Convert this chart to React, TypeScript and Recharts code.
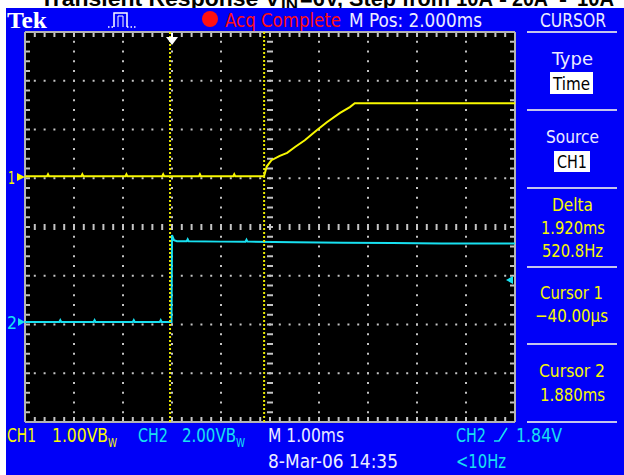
import React from 'react';
import { LineChart, Line, XAxis, YAxis, ReferenceLine, ReferenceArea } from 'recharts';

// CH1 (yellow, 1.00 V/div), time in ms relative to trigger
const ch1Time = [-3.0, -2.55, -2.53, -2.51, -1.85, -1.83, -1.81, -0.95, -0.93, -0.91, -0.2, -0.18, -0.16, 0.55, 0.57, 0.59, 1.25, 1.27, 1.29, 1.878, 1.933, 2.03, 2.2, 2.35, 2.51, 2.71, 2.96, 3.16, 3.43, 3.63, 3.73, 5.0, 7.0];
const ch1Volts = [0.04, 0.04, 0.08, 0.04, 0.04, 0.08, 0.04, 0.04, 0.08, 0.04, 0.04, 0.08, 0.04, 0.04, 0.08, 0.04, 0.04, 0.08, 0.04, 0.04, 0.24, 0.37, 0.46, 0.52, 0.64, 0.78, 0.99, 1.15, 1.34, 1.46, 1.54, 1.54, 1.54];

// CH2 (cyan, 2.00 V/div)
const ch2Time = [-3.0, -2.3, -2.28, -2.26, -1.6, -1.58, -1.56, -0.8, -0.78, -0.76, -0.25, -0.23, -0.21, -0.01, 0.0, 0.04, 0.1, 0.3, 0.32, 0.34, 1.0, 1.5, 1.52, 1.54, 2.5, 3.5, 4.5, 5.5, 7.0];
const ch2Volts = [0.0, 0.0, 0.08, 0.0, 0.0, 0.08, 0.0, 0.0, 0.08, 0.0, 0.0, 0.08, 0.0, 0.0, 3.57, 3.36, 3.32, 3.32, 3.4, 3.32, 3.3, 3.3, 3.38, 3.3, 3.27, 3.25, 3.24, 3.22, 3.22];

// graticule (ms / CH1 volts)
const xDomain = [-3, 7];
const ch1Domain = [-5, 3];
const ch2Domain = [-4.1, 11.9];
const gridX = [-2, -1, 0, 1, 3, 4, 5, 6];
const gridY = [2, 1, 0, -2, -3, -4];
const centerX = 2;
const centerY = -1;
const cursor1 = -0.04;
const cursor2 = 1.88;

const ch1Data = ch1Time.map((t, i) => ({ t, v: ch1Volts[i] }));
const ch2Data = ch2Time.map((t, i) => ({ t, v: ch2Volts[i] }));

const BLUE = '#0000f8';
const YEL = '#f8f800';
const CYAN = '#18e0f0';
const WHITE = '#ececff';
const GRID = '#c4c4c4';
const FONT = "'Liberation Sans Narrow', 'DejaVu Sans Condensed', 'Liberation Sans', Arial, sans-serif";
const TFONT = "'Liberation Sans', Arial, sans-serif";

function T(props: any) {
  const { x, y, w, fill, size = 18, anchor = 'start', family = FONT, weight = 'normal', children } = props;
  return (
    <text x={x} y={y} fill={fill} fontSize={size} fontFamily={family} fontWeight={weight}
      textLength={w} lengthAdjust="spacingAndGlyphs" textAnchor={anchor}>{children}</text>
  );
}

export default function App() {
  const W = 624, H = 475;
  return (
    <div style={{ position: 'absolute', left: 0, top: 0, width: W, height: H, background: '#fff', overflow: 'hidden' }}>
      <svg width={W} height={H} style={{ position: 'absolute', left: 0, top: 0 }}>
        <T x={40} y={6} w={240} fill="#000" size={22} family={TFONT} weight="bold">Transient Response V</T>
        <T x={281} y={9} w={17} fill="#000" size={14} family={TFONT} weight="bold">IN</T>
        <T x={300} y={6} w={150} fill="#000" size={22} family={TFONT} weight="bold">=6V, Step from</T>
        <T x={456} y={6} w={37} fill="#000" size={22} family={TFONT} weight="bold">10A</T>
        <T x={499} y={6} w={8} fill="#000" size={22} family={TFONT} weight="bold">-</T>
        <T x={512} y={6} w={36} fill="#000" size={22} family={TFONT} weight="bold">20A</T>
        <T x={559} y={6} w={8} fill="#000" size={22} family={TFONT} weight="bold">-</T>
        <T x={577} y={6} w={37} fill="#000" size={22} family={TFONT} weight="bold">10A</T>
        <rect x={6} y={8} width={W - 6} height={H - 8} fill={BLUE} />
      </svg>

      <div style={{ position: 'absolute', left: 0, top: 0 }}>
        <LineChart width={W} height={H} data={ch1Data} margin={{ top: 32, right: 109, bottom: 53, left: 25 }}>
          <XAxis dataKey="t" type="number" domain={xDomain} hide allowDataOverflow />
          <YAxis type="number" domain={ch1Domain} hide allowDataOverflow />
          <YAxis yAxisId="ch2" type="number" domain={ch2Domain} hide allowDataOverflow />
          <ReferenceArea x1={xDomain[0]} x2={xDomain[1]} y1={ch1Domain[0]} y2={ch1Domain[1]} fill="#000" fillOpacity={1} stroke="none" />
          {gridX.map((x) => (
            <ReferenceLine key={'gx' + x} x={x} stroke={GRID} strokeWidth={2} strokeDasharray="2 7.75" strokeDashoffset={1} />
          ))}
          {gridY.map((y) => (
            <ReferenceLine key={'gy' + y} y={y} stroke={GRID} strokeWidth={2} strokeDasharray="2 7.8" strokeDashoffset={1} />
          ))}
          <ReferenceLine x={centerX} stroke={GRID} strokeWidth={6} strokeDasharray="2 7.75" strokeDashoffset={1} />
          <ReferenceLine y={centerY} stroke={GRID} strokeWidth={6} strokeDasharray="2 7.8" strokeDashoffset={1} />
          <ReferenceLine x={xDomain[0] + 0.051} stroke={GRID} strokeWidth={5} strokeDasharray="2 7.75" strokeDashoffset={1} />
          <ReferenceLine x={xDomain[1] - 0.051} stroke={GRID} strokeWidth={5} strokeDasharray="2 7.75" strokeDashoffset={1} />
          <ReferenceLine y={ch1Domain[1] - 0.051} stroke={GRID} strokeWidth={5} strokeDasharray="2 7.8" strokeDashoffset={1} />
          <ReferenceLine y={ch1Domain[0] + 0.051} stroke={GRID} strokeWidth={5} strokeDasharray="2 7.8" strokeDashoffset={1} />
          <ReferenceLine x={xDomain[0]} stroke="#b4b4b4" strokeWidth={2} />
          <ReferenceLine x={xDomain[1]} stroke="#b4b4b4" strokeWidth={2} />
          <ReferenceLine y={ch1Domain[0]} stroke="#b4b4b4" strokeWidth={2} />
          <ReferenceLine y={ch1Domain[1]} stroke="#b4b4b4" strokeWidth={2} />
          <Line data={ch2Data} yAxisId="ch2" dataKey="v" type="linear" stroke={CYAN} strokeWidth={2} dot={false} isAnimationActive={false} />
          <Line data={ch1Data} dataKey="v" type="linear" stroke={YEL} strokeWidth={2} dot={false} isAnimationActive={false} />
          <ReferenceLine x={cursor1} stroke="#e8e800" strokeWidth={2} strokeDasharray="2 2" />
          <ReferenceLine x={cursor2} stroke="#e8e800" strokeWidth={2} strokeDasharray="2 2" />
        </LineChart>
      </div>

      <svg width={W} height={H} style={{ position: 'absolute', left: 0, top: 0, pointerEvents: 'none' }}>
        {/* top bar */}
        <T x={7} y={28} w={40} fill="#fff" size={24} family="'Liberation Serif', 'Times New Roman', serif" weight="bold">Tek</T>
        <g stroke="#fff" fill="none" strokeWidth={1.5}>
          <path d="M108 27 H114" strokeDasharray="1.5 2" />
          <path d="M114 27 V13 H127 V27" />
          <path d="M118 27 V16 H123 V27" strokeWidth={1} />
          <path d="M127 27 H137" strokeDasharray="1.5 2" />
        </g>
        <circle cx={210} cy={19} r={8} fill="#ff1010" />
        <T x={225} y={27} w={116} fill="#ff1010" size={19}>Acq Complete</T>
        <T x={349} y={27} w={133} fill={WHITE} size={19}>M Pos: 2.000ms</T>
        <T x={540} y={27} w={66} fill={WHITE} size={19}>CURSOR</T>

        {/* side panel */}
        {[32, 110, 188, 267, 344, 422].map((y) => (
          <rect key={y} x={527} y={y - 1} width={90} height={2} fill="#c4c4ec" />
        ))}
        <T x={552} y={65} w={41} fill={WHITE}>Type</T>
        <rect x={550} y={72} width={43} height={22} fill="#fff" />
        <T x={553} y={90} w={37} fill="#000">Time</T>
        <T x={546} y={143} w={53} fill={WHITE}>Source</T>
        <rect x={554} y={151} width={36} height={21} fill="#fff" />
        <T x={557} y={168} w={30} fill="#000">CH1</T>
        <T x={552} y={211} w={41} fill={YEL}>Delta</T>
        <T x={541} y={234} w={64} fill={YEL}>1.920ms</T>
        <T x={542} y={257} w={61} fill={YEL}>520.8Hz</T>
        <T x={540} y={299} w={63} fill={YEL}>Cursor 1</T>
        <T x={535} y={322} w={73} fill={YEL}>−40.00µs</T>
        <T x={539} y={377} w={66} fill={YEL}>Cursor 2</T>
        <T x={540} y={401} w={65} fill={YEL}>1.880ms</T>

        {/* channel markers */}
        <T x={8} y={184} w={7} fill={YEL} size={17}>1</T>
        <polygon points="17,173 25,177 17,181" fill={YEL} />
        <T x={7} y={329} w={10} fill={CYAN} size={17}>2</T>
        <polygon points="18,318 25,322 18,326" fill={CYAN} />
        {/* trigger position & level */}
        <rect x={171} y={33} width={2} height={5} fill="#fff" />
        <polygon points="166,37 178,37 172,45" fill="#fff" />
        <polygon points="506,280 513,276 513,284" fill={CYAN} />

        {/* bottom bar */}
        <T x={7} y={442} w={29} fill={YEL} size={19}>CH1</T>
        <T x={52} y={442} w={56} fill={YEL} size={19}>1.00VB</T>
        <T x={108} y={447} w={9} fill={YEL} size={12}>W</T>
        <T x={138} y={442} w={30} fill={CYAN} size={19}>CH2</T>
        <T x={182} y={442} w={54} fill={CYAN} size={19}>2.00VB</T>
        <T x={236} y={447} w={9} fill={CYAN} size={12}>W</T>
        <T x={268} y={442} w={76} fill={WHITE} size={19}>M 1.00ms</T>
        <T x={456} y={442} w={30} fill={CYAN} size={19}>CH2</T>
        <path d="M494 441 H499 L507 428" stroke={CYAN} strokeWidth={1.6} fill="none" />
        <T x={516} y={442} w={46} fill={CYAN} size={19}>1.84V</T>
        <T x={268} y={468} w={130} fill={WHITE} size={19}>8-Mar-06 14:35</T>
        <T x={456} y={468} w={50} fill={CYAN} size={19}>&lt;10Hz</T>
      </svg>
    </div>
  );
}
